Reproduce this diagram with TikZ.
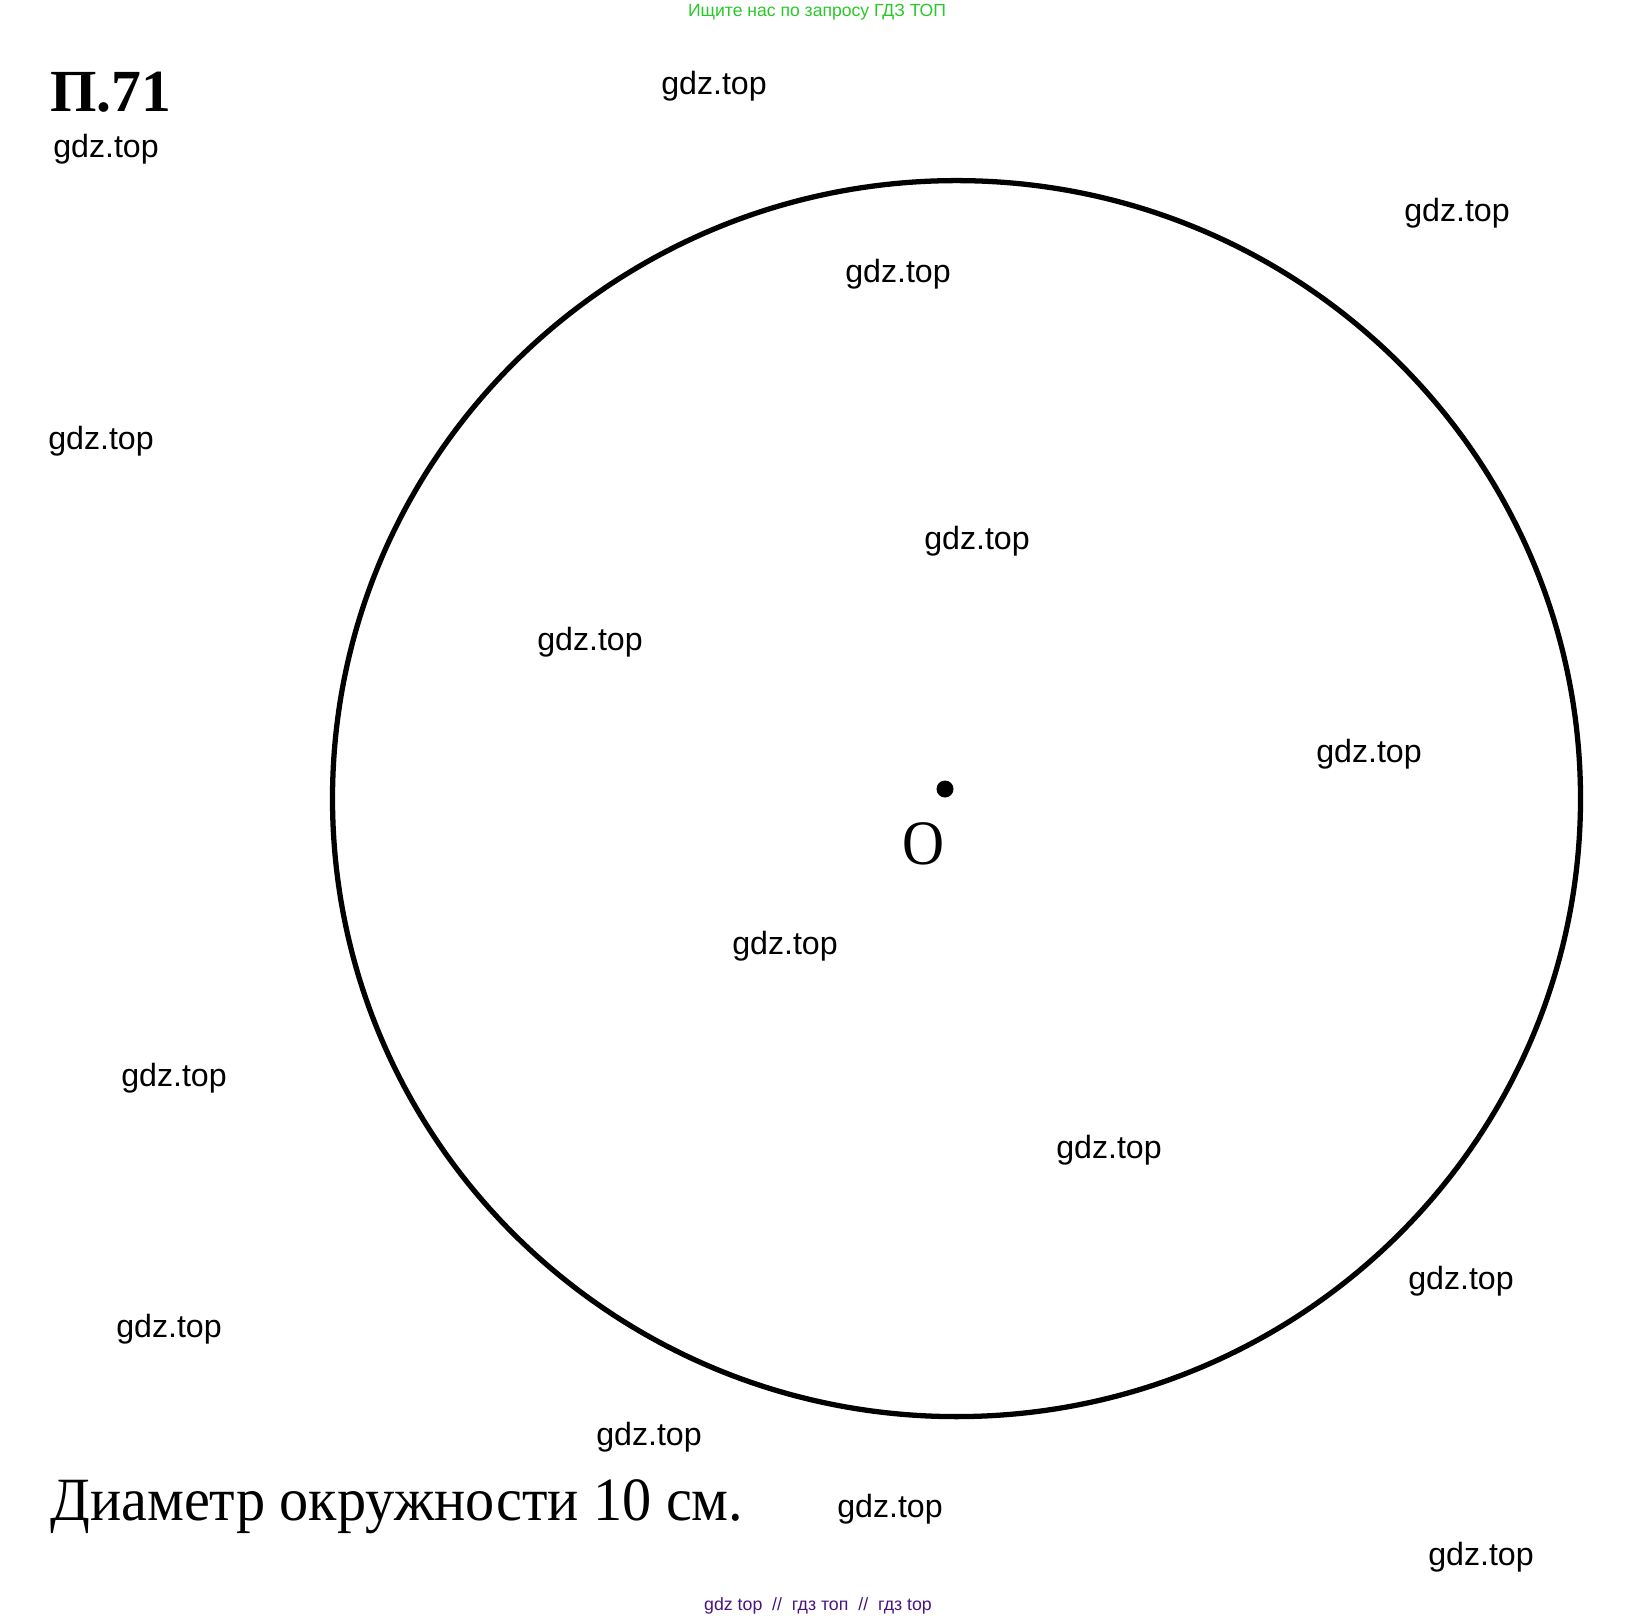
\documentclass[tikz,border=0pt]{standalone}
\usepackage{fontspec}
\setmainfont{Liberation Serif}
\newfontfamily\wmfont{Liberation Sans}
\definecolor{wmgreen}{RGB}{40,200,40}
\definecolor{wmpurple}{RGB}{75,20,125}
\tikzset{
  wmark/.style={font=\wmfont\fontsize{18.3}{22}\selectfont, inner sep=0pt},
  rim/.style={line width=3pt},
}
\begin{document}
\begin{tikzpicture}[x=0.02cm,y=-0.02cm]
        \useasboundingbox (0,0) rectangle (1639,1619);

        % circle and centre
        \draw[rim] (956.5,798.6) ellipse (624 and 618);
        \fill (945,789) circle (8.5) coordinate (ctr);
        \node[font=\fontsize{36}{40}\selectfont, inner sep=0pt, xscale=0.92] (olabel) at (923,844) {O};

        % texts
        \node[font=\bfseries\fontsize{34}{40}\selectfont, inner sep=0pt, anchor=west] (title) at (50,92) {П.71};
        \node[font=\fontsize{35}{40}\selectfont, inner sep=0pt, anchor=west, xscale=0.948] (caption) at (50,1507) {Диаметр окружности 10 см.};

        \node[wmark, text=wmgreen, font=\wmfont\fontsize{10}{11}\selectfont] (top) at (817,12) {Ищите нас по запросу ГДЗ ТОП};
        \node[wmark, text=wmpurple, font=\wmfont\fontsize{10.1}{11}\selectfont] (bottom) at (818,1606) {gdz top \ // \ гдз топ \ // \ гдз top};

        \foreach \x/\y in {714/83, 106/146, 1457/210, 898/271, 101/438, 977/538,
                           590/639, 1369/751, 785/943, 174/1075, 1109/1147,
                           1461/1278, 169/1326, 649/1434, 890/1506, 1481/1554} {
            \node[wmark] at (\x,\y+3) {gdz.top};
        }
    \end{tikzpicture}
\end{document}
